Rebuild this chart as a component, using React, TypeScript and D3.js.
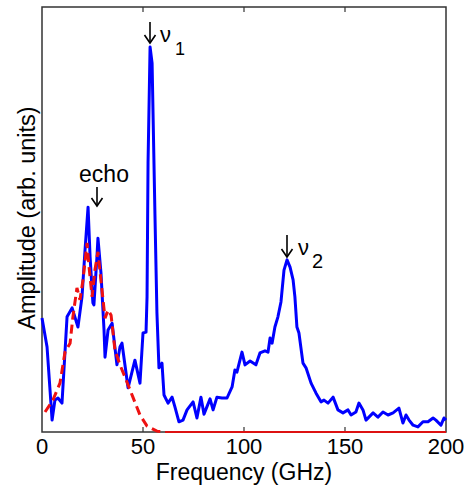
import React from "react";
import * as d3 from "d3";

// blue: measured spectrum (frequency in GHz, amplitude in arb. units 0..100)
const blueFreq = [
  0, 2.5, 5.0, 6.4, 7.9, 9.9, 12.4, 14.9, 17.8, 19.8, 21.3, 22.8, 23.8, 25.2, 25.7, 27.2, 27.7, 29.2,
  30.7, 31.2, 32.7, 34.7, 37.1, 38.6, 39.6, 42.6, 46.0, 48.5, 50.0, 51.5, 52.0, 52.5, 53.5, 54.5, 55.9,
  56.9, 57.9, 59.4, 60.4, 62.4, 64.4, 65.8, 67.8, 69.8, 71.8, 74.8, 76.7, 78.7, 80.2, 83.2, 84.7, 86.6,
  89.1, 91.6, 94.1, 95.5, 96.5, 99.0, 100.5, 103.0, 105.9, 107.9, 110.4, 111.9, 112.9, 113.9, 115.3,
  116.8, 118.3, 119.8, 121.3, 122.8, 124.3, 125.2, 126.2, 127.2, 129.2, 130.7, 133.2, 135.6, 138.1,
  139.6, 141.6, 144.1, 146.5, 149.0, 151.5, 153.0, 155.4, 156.9, 158.9, 160.4, 163.9, 166.3, 168.8,
  171.3, 173.8, 176.7, 178.7, 180.2, 181.7, 183.7, 186.1, 188.6, 191.1, 193.6, 195.0, 197.5, 199.0, 200,
];
const blueAmp = [
  26.8, 20.0, 2.8, 7.5, 8.0, 6.8, 27.1, 29.2, 24.7, 31.8, 42.8, 52.9, 41.2, 30.4, 29.9, 41.2, 45.6, 37.4,
  24.0, 17.6, 24.0, 25.6, 15.8, 20.0, 20.9, 10.4, 16.9, 11.5, 23.3, 23.5, 31.8, 63.3, 90.6, 86.8, 51.5,
  28.0, 15.1, 16.2, 8.7, 6.8, 8.2, 5.9, 2.4, 2.8, 5.2, 7.1, 3.3, 8.2, 4.2, 7.8, 5.2, 8.2,
  8.0, 8.0, 10.6, 14.6, 14.1, 18.8, 15.8, 16.7, 15.8, 18.6, 19.1, 18.8, 22.1, 20.9, 24.7,
  27.1, 30.6, 38.1, 40.5, 38.8, 35.8, 31.8, 24.7, 23.3, 16.2, 15.1, 11.5, 9.2, 7.1,
  7.5, 6.8, 8.2, 5.2, 4.5, 5.2, 4.0, 4.7, 6.8, 5.2, 2.8, 4.5, 3.5, 4.7,
  4.0, 4.5, 5.6, 2.1, 4.0, 2.8, 1.6, 1.2, 2.4, 2.4, 3.3, 2.8, 1.6, 3.3, 2.8,
];

// red dashed: echo model
const redFreq = [
  1.5, 5.4, 8.9, 11.4, 13.9, 15.3, 17.3, 18.8, 20.3, 22.3, 23.3, 24.8, 26.2, 27.7, 29.7, 31.2, 32.7,
  34.2, 36.1, 38.6, 41.1, 45.0, 48.5, 52.0, 56.9, 60.9,
];
const redAmp = [
  4.7, 7.5, 11.5, 18.8, 20.9, 27.1, 33.9, 31.1, 35.8, 44.5, 38.8, 31.8, 38.1, 42.4, 33.4, 26.8, 28.7,
  27.5, 19.3, 15.8, 12.9, 8.2, 4.0, 1.4, 0.2, 0,
];
const redTailFreq = [60.9, 200];
const redTailAmp = [0, 0];

const xTicks = [0, 50, 100, 150, 200];

const W = 472;
const H = 485;
const font = "Liberation Sans, Arial, Helvetica, sans-serif";

export default function App() {
  const x = d3.scaleLinear().domain([0, 200]).range([42, 446]);
  const y = d3.scaleLinear().domain([0, 100]).range([432, 7]);

  const line = d3
    .line<[number, number]>()
    .x((d) => x(d[0]))
    .y((d) => y(d[1]));

  const blue = blueFreq.map((f, i) => [f, blueAmp[i]] as [number, number]);
  const red = redFreq.map((f, i) => [f, redAmp[i]] as [number, number]);
  const redTail = redTailFreq.map((f, i) => [f, redTailAmp[i]] as [number, number]);

  const arrow = (ax: number, tipY: number, len: number, key: string) => (
    <g key={key} stroke="#000" strokeWidth={1.6} fill="none">
      <line x1={ax} x2={ax} y1={tipY - len} y2={tipY} />
      <polyline points={`${ax - 5.5},${tipY - 8} ${ax},${tipY} ${ax + 5.5},${tipY - 8}`} />
    </g>
  );

  return (
    <svg
      width={W}
      height={H}
      style={{ position: "absolute", left: 0, top: 0, background: "#fff" }}
      fontFamily={font}
    >
      {/* frame */}
      <rect x={42} y={7} width={404} height={425} fill="none" stroke="#333" strokeWidth={1.5} />
      {xTicks.slice(1, -1).map((t) => (
        <g key={t} stroke="#333" strokeWidth={1.2}>
          <line x1={x(t)} x2={x(t)} y1={432} y2={427} />
          <line x1={x(t)} x2={x(t)} y1={7} y2={12} />
        </g>
      ))}
      {xTicks.map((t) => (
        <text key={t} x={x(t)} y={454} fontSize={22} textAnchor="middle" fill="#000">
          {t}
        </text>
      ))}
      <text x={x(100)} y={480} fontSize={23} textAnchor="middle" fill="#000">
        Frequency (GHz)
      </text>
      <text
        transform={`translate(35,218) rotate(-90)`}
        fontSize={23.5}
        textAnchor="middle"
        fill="#000"
      >
        Amplitude (arb. units)
      </text>

      <path d={line(blue) ?? ""} fill="none" stroke="#0000ff" strokeWidth={3} strokeLinejoin="round" />
      <path
        d={line(red) ?? ""}
        fill="none"
        stroke="#ee1111"
        strokeWidth={3}
        strokeDasharray="9,5"
      />
      <path d={line(redTail) ?? ""} fill="none" stroke="#dd1111" strokeWidth={2} />

      {/* annotations */}
      <text x={104} y={182} fontSize={23} textAnchor="middle" fill="#000">
        echo
      </text>
      {arrow(97, 206, 19, "echo")}
      {arrow(150, 43, 21, "nu1")}
      <text x={160} y={42} fontSize={22} fill="#000">
        ν
      </text>
      <text x={175} y={55} fontSize={18} fill="#000">
        1
      </text>
      {arrow(287, 257, 22, "nu2")}
      <text x={298} y={255} fontSize={22} fill="#000">
        ν
      </text>
      <text x={312} y={268} fontSize={20} fill="#000">
        2
      </text>
    </svg>
  );
}
